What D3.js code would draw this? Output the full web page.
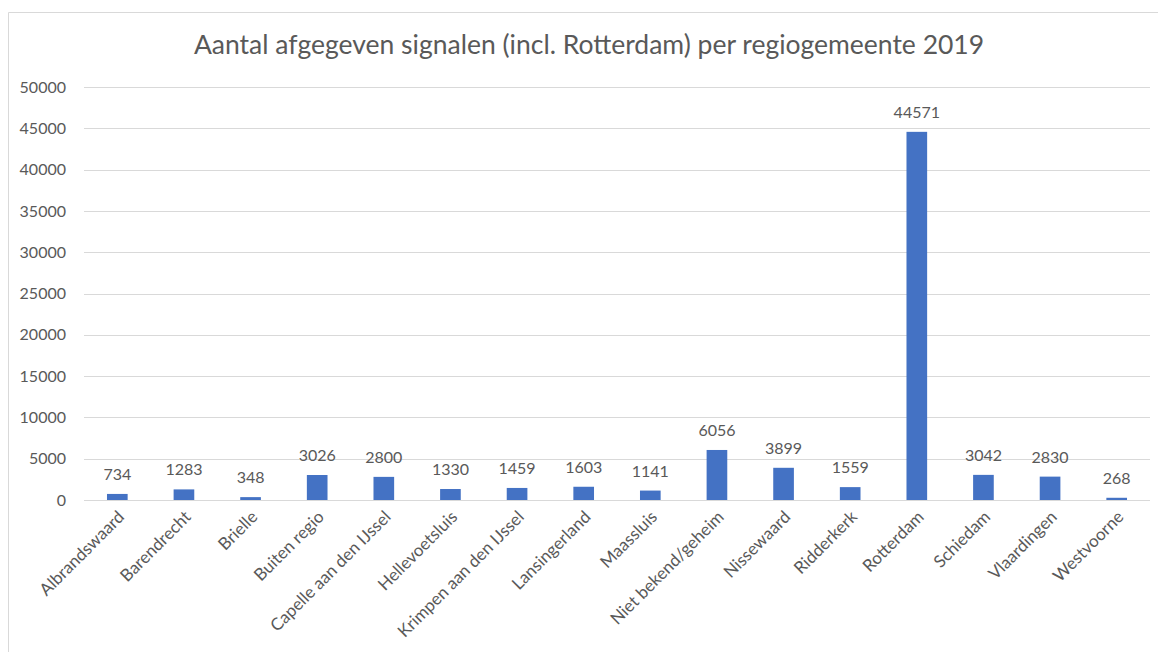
<!DOCTYPE html>
<html>
<head>
<meta charset="utf-8">
<script src="https://cdn.jsdelivr.net/npm/d3@7"></script>
<style>
  body { margin: 0; background: #fff; }
  svg { display: block; }
</style>
</head>
<body>
<svg id="chart" width="1158" height="652"></svg>
<script>
const title = "Aantal afgegeven signalen (incl. Rotterdam) per regiogemeente 2019";
const categories = ["Albrandswaard","Barendrecht","Brielle","Buiten regio","Capelle aan den IJssel","Hellevoetsluis","Krimpen aan den IJssel","Lansingerland","Maassluis","Niet bekend/geheim","Nissewaard","Ridderkerk","Rotterdam","Schiedam","Vlaardingen","Westvoorne"];
const values = [734,1283,348,3026,2800,1330,1459,1603,1141,6056,3899,1559,44571,3042,2830,268];
const yTicks = [0,5000,10000,15000,20000,25000,30000,35000,40000,45000,50000];

const svg = d3.select("#chart");
const font = "Lato, 'Open Sans', sans-serif";
const textColor = "#595959";

// chart border
svg.append("path")
  .attr("d", "M8.5,652 L8.5,12.5 L1158,12.5")
  .attr("fill", "none").attr("stroke", "#d9d9d9").attr("stroke-width", 1);

const x = d3.scaleBand().domain(categories).range([84, 1150]).paddingInner(0.69).paddingOuter(0.345);
const y = d3.scaleLinear().domain([0, 50000]).range([500, 87]);

// gridlines
svg.append("g").selectAll("line").data(yTicks).join("line")
  .attr("x1", 84).attr("x2", 1150)
  .attr("y1", d => Math.round(y(d)) + 0.5).attr("y2", d => Math.round(y(d)) + 0.5)
  .attr("stroke", "#d9d9d9").attr("stroke-width", 1);

// y axis labels
const yAxis = d3.axisLeft(y).tickValues(yTicks).tickSize(0).tickPadding(0).tickFormat(d3.format("d"));
const yg = svg.append("g").attr("transform", "translate(66,0)").call(yAxis);
yg.select(".domain").remove();
yg.selectAll("text").attr("font-family", font).attr("font-size", 16).attr("fill", textColor);

// title
svg.append("text").attr("x", 589).attr("y", 54).attr("text-anchor", "middle")
  .attr("font-family", font).attr("font-size", 26.5).attr("fill", textColor).text(title);

// bars
svg.append("g").selectAll("rect").data(values).join("rect")
  .attr("x", (d, i) => x(categories[i]))
  .attr("width", x.bandwidth())
  .attr("y", d => y(d))
  .attr("height", d => y(0) - y(d))
  .attr("fill", "#4472C4");

// value labels
svg.append("g").selectAll("text").data(values).join("text")
  .attr("x", (d, i) => x(categories[i]) + x.bandwidth() / 2)
  .attr("y", d => y(d) - 14)
  .attr("text-anchor", "middle")
  .attr("font-family", font).attr("font-size", 16).attr("fill", textColor)
  .text(d => d);

// x axis labels
const xAxis = d3.axisBottom(x).tickSize(0).tickPadding(0);
const xg = svg.append("g").attr("transform", "translate(0,500)").call(xAxis);
xg.select(".domain").remove();
xg.selectAll("text")
  .attr("font-family", font).attr("font-size", 17).attr("fill", textColor)
  .attr("text-anchor", "end")
  .attr("dy", null).attr("y", 0)
  .attr("transform", "translate(8,18) rotate(-45)");
</script>
</body>
</html>
